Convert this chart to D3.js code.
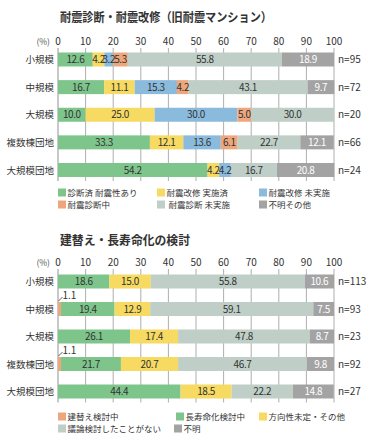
<!DOCTYPE html>
<html>
<head>
<meta charset="utf-8">
<script src="https://cdnjs.cloudflare.com/ajax/libs/d3/7.8.5/d3.min.js"></script>
<style>
  body { margin: 0; background: white; }
  text { font-family: "Noto Sans CJK JP", "Noto Sans", sans-serif; }
</style>
</head>
<body>
<script>
// ---- data ----
var rows = ["小規模", "中規模", "大規模", "複数棟団地", "大規模団地"];
var ticks = [0, 10, 20, 30, 40, 50, 60, 70, 80, 90, 100];

var keys1 = ["診断済 耐震性あり", "耐震改修 実施済", "耐震改修 未実施", "耐震診断中", "耐震診断 未実施", "不明その他"];
var vals1 = [
  [12.6, 4.2, 3.2, 5.3, 55.8, 18.9],
  [16.7, 11.1, 15.3, 4.2, 43.1, 9.7],
  [10.0, 25.0, 30.0, 5.0, 30.0, 0],
  [33.3, 12.1, 13.6, 6.1, 22.7, 12.1],
  [54.2, 4.2, 4.2, 0, 16.7, 20.8]
];
var n1 = ["n=95", "n=72", "n=20", "n=66", "n=24"];

var keys2 = ["建替え検討中", "長寿命化検討中", "方向性未定・その他", "議論検討したことがない", "不明"];
var vals2 = [
  [0, 18.6, 15.0, 55.8, 10.6],
  [1.1, 19.4, 12.9, 59.1, 7.5],
  [0, 26.1, 17.4, 47.8, 8.7],
  [1.1, 21.7, 20.7, 46.7, 9.8],
  [0, 44.4, 18.5, 22.2, 14.8]
];
var n2 = ["n=113", "n=93", "n=23", "n=92", "n=27"];

var green = "#7ec58c", yellow = "#f6da62", blue = "#8abbdd", orange = "#eea77c",
    pale = "#bfcfc7", gray = "#a3a3a3";
var colors1 = [green, yellow, blue, orange, pale, gray];
var colors2 = [orange, green, yellow, pale, gray];

var width = 375, height = 444;
var svg = d3.select("body").append("svg").attr("width", width).attr("height", height);

var x = d3.scaleLinear().domain([0, 100]).range([58, 334]);

function chart(o) {
  var g = svg.append("g");
  g.append("text").attr("x", 60).attr("y", o.titleY)
    .attr("font-size", 12.5).attr("font-weight", "bold").attr("fill", "#333")
    .attr("textLength", o.titleW).attr("lengthAdjust", "spacingAndGlyphs")
    .text(o.title);

  g.append("text").attr("x", 50).attr("y", o.axisY).attr("text-anchor", "end")
    .attr("font-size", 8.5).attr("fill", "#555").text("(%)");
  g.selectAll(".tk").data(ticks).enter().append("text")
    .attr("x", d => x(d)).attr("y", o.axisY).attr("text-anchor", "middle")
    .attr("font-size", 10).attr("fill", "#333").text(d => d);

  var y = d3.scalePoint().domain(rows).range([o.y0, o.y1]);
  var bh = 14;

  g.selectAll(".grid").data(ticks).enter().append("line")
    .attr("x1", d => x(d)).attr("x2", d => x(d))
    .attr("y1", o.axisY + 3).attr("y2", o.y1 + bh / 2 + 4)
    .attr("stroke", d => d === 0 ? "#777" : "#999").attr("stroke-width", 0.8);

  rows.forEach(function(r, i) {
    var cum = 0;
    var segs = o.vals[i].map(function(v, k) {
      var s = { v: v, k: k, x0: cum };
      cum += v;
      return s;
    });
    g.append("text").attr("x", 54).attr("y", y(r) + 3.5).attr("text-anchor", "end")
      .attr("font-size", 9.5).attr("fill", "#333").text(r);
    g.selectAll(".s" + i).data(segs.filter(s => s.v > 0)).enter().append("rect")
      .attr("x", s => x(s.x0)).attr("y", y(r) - bh / 2)
      .attr("width", s => x(s.x0 + s.v) - x(s.x0)).attr("height", bh)
      .attr("fill", s => o.colors[s.k]);
    g.selectAll(".l" + i).data(segs.filter(s => s.v > o.minLabel)).enter().append("text")
      .attr("x", s => x(s.x0 + s.v / 2)).attr("y", y(r) + 3.5)
      .attr("text-anchor", "middle").attr("font-size", 10).attr("letter-spacing", -0.4)
      .attr("fill", s => s.k === o.colors.length - 1 ? "white" : "#333")
      .text(s => s.v.toFixed(1));
    g.append("text").attr("x", 338).attr("y", y(r) + 3.5)
      .attr("font-size", 10).attr("fill", "#333").text(o.n[i]);
    // small slivers labelled outside with a leader
    if (o.outside) {
      segs.filter(s => s.v > 0 && s.v <= o.minLabel).forEach(function(s) {
        var cx = x(s.x0 + s.v / 2);
        g.append("line").attr("x1", cx - 1).attr("y1", y(r) - bh / 2 - 1)
          .attr("x2", cx + 3).attr("y2", y(r) - bh / 2 - 5)
          .attr("stroke", "#333").attr("stroke-width", 0.8);
        g.append("text").attr("x", cx + 3).attr("y", y(r) - bh / 2 - 3.5)
          .attr("font-size", 10).attr("fill", "#333").text(s.v.toFixed(1));
      });
    }
  });

  // legend
  o.legend.forEach(function(it) {
    g.append("rect").attr("x", it.x).attr("y", it.y - 7.5).attr("width", 8).attr("height", 8)
      .attr("fill", o.colors[it.k]);
    g.append("text").attr("x", it.x + 9.5 + (it.pad || 0)).attr("y", it.y)
      .attr("font-size", 8.5).attr("fill", "#333").text(o.keys[it.k]);
  });
}

chart({
  title: "耐震診断・耐震改修（旧耐震マンション）", titleW: 212,
  titleY: 22, axisY: 45, y0: 59.5, y1: 170,
  vals: vals1, colors: colors1, keys: keys1, n: n1, minLabel: 1, outside: false,
  legend: [
    { k: 0, x: 58, y: 196 }, { k: 1, x: 157, y: 196 }, { k: 2, x: 259, y: 196 },
    { k: 3, x: 58, y: 208 }, { k: 4, x: 157, y: 208, pad: 2 }, { k: 5, x: 259, y: 208 }
  ]
});

chart({
  title: "建替え・長寿命化の検討", titleW: 130,
  titleY: 245, axisY: 266, y0: 281.5, y1: 391.5,
  vals: vals2, colors: colors2, keys: keys2, n: n2, minLabel: 2, outside: true,
  legend: [
    { k: 0, x: 58, y: 420 }, { k: 1, x: 176, y: 420 }, { k: 2, x: 259, y: 420 },
    { k: 3, x: 58, y: 432 }, { k: 4, x: 174, y: 432 }
  ]
});
</script>
</body>
</html>
